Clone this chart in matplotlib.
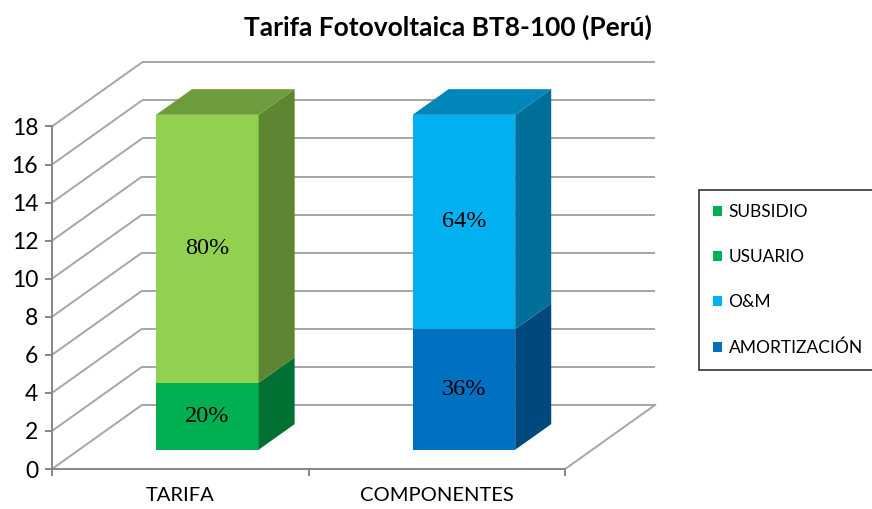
import numpy as np
import matplotlib
matplotlib.use("Agg")
import matplotlib.pyplot as plt
from matplotlib.patches import Polygon

# Data
categories = ['TARIFA', 'COMPONENTES']
series_names = ['AMORTIZACIÓN', 'O&M', 'USUARIO', 'SUBSIDIO']
# values per category (TARIFA, COMPONENTES)
amortizacion = [0.0, 6.34]
oym = [0.0, 11.26]
usuario = [3.52, 0.0]
subsidio = [14.08, 0.0]
pct_labels = {'AMORTIZACIÓN': '36%', 'O&M': '64%', 'USUARIO': '20%', 'SUBSIDIO': '80%'}
y_ticks = list(range(0, 20, 2))
title = 'Tarifa Fotovoltaica BT8-100 (Perú)'

# styling (front, side, top) per series
colors = {
    'AMORTIZACIÓN': ('#0070C0', '#00497E', '#005A9C'),
    'O&M': ('#00B0F0', '#00709A', '#0086B8'),
    'USUARIO': ('#00B050', '#007033', '#008A3E'),
    'SUBSIDIO': ('#92D050', '#5E8532', '#6E9B3C'),
}
legend_colors = {'SUBSIDIO': '#00B050', 'USUARIO': '#00B050',
                 'O&M': '#00B0F0', 'AMORTIZACIÓN': '#0070C0'}

# depth offsets of the oblique projection (data units)
DX, DY = 0.351, 3.37
grid_col = '#A6A6A6'

fig = plt.figure(figsize=(8.72, 5.09), dpi=100)
ax = fig.add_axes([52 / 872, 1 - 469 / 509, 605 / 872, 410 / 509])
ax.set_xlim(-0.5, 1.5 + 0.358)
ax.set_ylim(0, 410 / 19.03)


def proj(x, y, d):
    return (x + d * DX, y + d * DY)


# left wall diagonals and back-wall gridlines
for v in y_ticks:
    ax.plot([-0.5, -0.5 + DX], [v, v + DY], color=grid_col, lw=1.4, zorder=1,
            solid_capstyle='butt')
    ax.plot([-0.5 + DX, 1.5 + DX], [v + DY, v + DY], color=grid_col, lw=1.4,
            zorder=1, solid_capstyle='butt')
# floor right edge
ax.plot([1.5, 1.5 + DX], [0, DY], color=grid_col, lw=1.4, zorder=1)

# bars
bar_w = 0.4
d0, d1 = 0.3, 0.7
data = {'AMORTIZACIÓN': amortizacion, 'O&M': oym, 'USUARIO': usuario, 'SUBSIDIO': subsidio}
for i, cat in enumerate(categories):
    bottom = 0.0
    segs = [(n, data[n][i]) for n in series_names if data[n][i] > 0]
    for k, (name, val) in enumerate(segs):
        front, side, top = colors[name]
        x0, x1 = i - bar_w / 2, i + bar_w / 2
        y0, y1 = bottom, bottom + val
        # front face
        ax.add_patch(Polygon([proj(x0, y0, d0), proj(x1, y0, d0),
                              proj(x1, y1, d0), proj(x0, y1, d0)],
                             closed=True, fc=front, ec='none', zorder=3))
        # side face
        ax.add_patch(Polygon([proj(x1, y0, d0), proj(x1, y0, d1),
                              proj(x1, y1, d1), proj(x1, y1, d0)],
                             closed=True, fc=side, ec='none', zorder=3))
        if k == len(segs) - 1:
            ax.add_patch(Polygon([proj(x0, y1, d0), proj(x1, y1, d0),
                                  proj(x1, y1, d1), proj(x0, y1, d1)],
                                 closed=True, fc=top, ec='none', zorder=3))
        cx, cy = proj(i, y0 + val / 2, d0)
        ax.text(cx, cy, pct_labels[name], ha='center', va='center',
                fontsize=17.5, family='Liberation Serif', zorder=4)
        bottom = y1

# axes
for s in ['top', 'right']:
    ax.spines[s].set_visible(False)
ax.spines['left'].set_bounds(0, 18)
ax.spines['bottom'].set_bounds(-0.5, 1.5)
for s in ['left', 'bottom']:
    ax.spines[s].set_color('#868686')
    ax.spines[s].set_linewidth(1.4)
ax.set_yticks(y_ticks)
ax.set_yticklabels([str(v) for v in y_ticks], family='Lato', fontsize=16.5)
ax.set_xticks([-0.5, 0.5, 1.5], minor=True)
ax.set_xticks([0, 1])
ax.set_xticklabels(categories, family='Lato', fontsize=14.5)
ax.tick_params(axis='y', length=5, color='#868686', width=1.4, pad=5)
ax.tick_params(axis='x', which='major', length=0, pad=13)
ax.tick_params(axis='x', which='minor', length=5, color='#868686', width=1.4)

fig.text(448 / 872, 1 - 27 / 509, title, ha='center', va='center',
         fontsize=19, fontweight='bold', family='Lato')

# legend
handles = [plt.Rectangle((0, 0), 1, 1, fc=legend_colors[n], ec='none')
           for n in ['SUBSIDIO', 'USUARIO', 'O&M', 'AMORTIZACIÓN']]
leg = fig.legend(handles, ['SUBSIDIO', 'USUARIO', 'O&M', 'AMORTIZACIÓN'],
                 loc='upper left', bbox_to_anchor=(699 / 872, 1 - 190 / 509),
                 prop={'family': 'Lato', 'size': 12.5}, frameon=True,
                 fancybox=False, edgecolor='black', labelspacing=1.68,
                 handlelength=0.55, handleheight=0.55, handletextpad=0.35,
                 borderpad=0.8, borderaxespad=0)
leg.get_frame().set_linewidth(1.2)

fig.savefig('out.png', dpi=100)
